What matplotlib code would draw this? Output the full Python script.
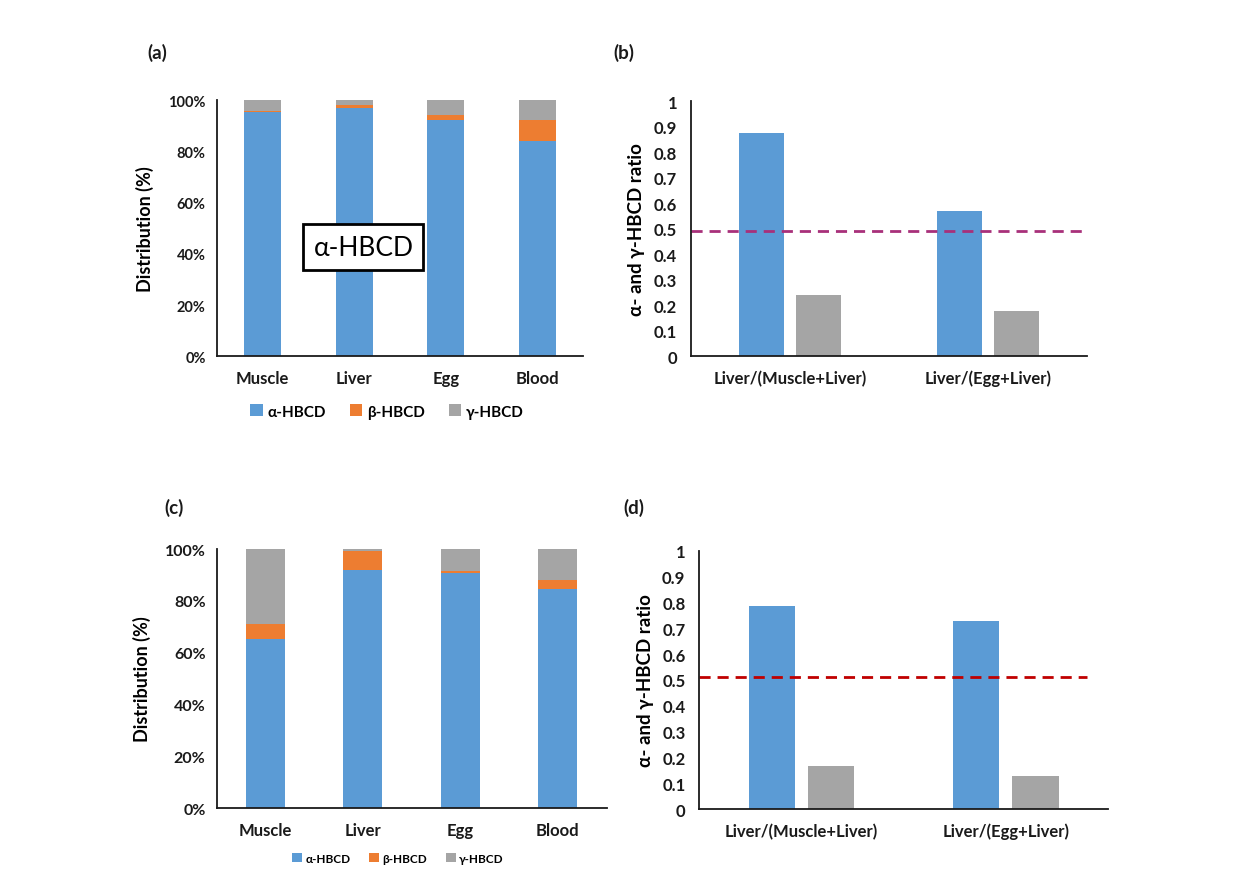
import numpy as np
from matplotlib import pyplot as plt
from matplotlib.ticker import PercentFormatter

plt.rcParams['font.family'] = ['Lato', 'DejaVu Sans']
plt.rcParams['font.weight'] = 'bold'

# Data
tissues = ['Muscle', 'Liver', 'Egg', 'Blood']
isomers = ['α-HBCD', 'β-HBCD', 'γ-HBCD']

# panel (a), percent
alpha_a = [95.3, 97.0, 92.4, 83.9]
beta_a = [0.5, 1.0, 1.8, 8.5]

# panel (c), percent
alpha_c = [65.4, 91.9, 90.9, 84.7]
beta_c = [5.6, 7.3, 0.6, 3.3]

ratio_labels = ['Liver/(Muscle+Liver)', 'Liver/(Egg+Liver)']
alpha_ratio_b = [0.874, 0.567]
gamma_ratio_b = [0.238, 0.176]
alpha_ratio_d = [0.787, 0.729]
gamma_ratio_d = [0.166, 0.127]
ref_b = 0.491
ref_d = 0.513

BLUE = '#5B9BD5'
ORANGE = '#ED7D31'
GRAY = '#A5A5A5'
TXT = '#1a1a1a'


def style(ax):
    for s in ['top', 'right']:
        ax.spines[s].set_visible(False)
    for s in ['left', 'bottom']:
        ax.spines[s].set_color('#1a1a1a')
        ax.spines[s].set_linewidth(1.3)
    ax.tick_params(length=0, colors=TXT)


def stacked(ax, alpha, beta, tsize, xsize, lsize, legsize, legy):
    x = np.arange(len(tissues))
    alpha = np.array(alpha)
    beta = np.array(beta)
    gamma = 100 - alpha - beta
    ax.bar(x, alpha, 0.4, color=BLUE, label=isomers[0])
    ax.bar(x, beta, 0.4, bottom=alpha, color=ORANGE, label=isomers[1])
    ax.bar(x, gamma, 0.4, bottom=alpha + beta, color=GRAY, label=isomers[2])
    ax.set_xlim(-0.5, 3.5)
    ax.set_ylim(0, 100)
    ax.set_yticks(np.arange(0, 101, 20))
    ax.yaxis.set_major_formatter(PercentFormatter(decimals=0))
    ax.set_xticks(x)
    ax.set_xticklabels(tissues, fontsize=xsize, fontweight='bold')
    ax.tick_params(axis='y', labelsize=tsize, pad=8)
    ax.tick_params(axis='x', pad=10)
    ax.set_ylabel('Distribution (%)', fontsize=lsize, fontweight='bold', labelpad=10)
    style(ax)
    ax.legend(loc='center', bbox_to_anchor=(0.465, legy), ncol=3, frameon=False,
              fontsize=legsize, handlelength=0.8, handleheight=0.8,
              handletextpad=0.3, columnspacing=1.6)


def ratio(ax, a, g, ref, refcolor, refend, tsize, xsize, lsize):
    x = np.arange(len(ratio_labels))
    ax.bar(x - 0.145, a, 0.226, color=BLUE)
    ax.bar(x + 0.145, g, 0.226, color=GRAY)
    ax.hlines(ref, -0.5, refend, colors=refcolor, linestyles=(0, (4, 2.5)), lw=2)
    ax.set_xlim(-0.5, 1.5)
    ax.set_ylim(0, 1)
    ax.set_yticks(np.arange(0, 1.01, 0.1))
    ax.set_yticklabels(['0', '0.1', '0.2', '0.3', '0.4', '0.5', '0.6', '0.7', '0.8', '0.9', '1'])
    ax.set_xticks(x)
    ax.set_xticklabels(ratio_labels, fontsize=xsize, fontweight='bold')
    ax.tick_params(axis='y', labelsize=tsize, pad=10)
    ax.tick_params(axis='x', pad=10)
    ax.set_ylabel('α- and γ-HBCD ratio', fontsize=lsize, fontweight='bold', labelpad=6)
    style(ax)


fig = plt.figure(figsize=(12.47, 8.87), dpi=100)

ax_a = fig.add_axes([0.174, 0.597, 0.2935, 0.289])
stacked(ax_a, alpha_a, beta_a, 10.5, 12, 13, 11, -0.215)
ax_a.text(0.40, 0.427, 'α-HBCD', transform=ax_a.transAxes, ha='center', va='center',
          fontsize=19, fontweight='normal', color='black',
          bbox=dict(boxstyle='square,pad=0.38', fc='white', ec='black', lw=2))

ax_b = fig.add_axes([0.5541, 0.5975, 0.3176, 0.2875])
ratio(ax_b, alpha_ratio_b, gamma_ratio_b, ref_b, '#A8307A', 1.5, 12, 12, 13.5)

ax_c = fig.add_axes([0.1738, 0.0879, 0.3127, 0.292])
stacked(ax_c, alpha_c, beta_c, 11.5, 12, 13, 8.5, -0.195)

ax_d = fig.add_axes([0.5608, 0.0868, 0.3277, 0.2912])
ratio(ax_d, alpha_ratio_d, gamma_ratio_d, ref_d, '#C00000', 1.397, 12, 12, 13.5)

for lab, (xp, yp) in zip(['(a)', '(b)', '(c)', '(d)'],
                         [(0.118, 0.933), (0.4915, 0.933), (0.132, 0.421), (0.5, 0.421)]):
    fig.text(xp, yp, lab, fontsize=13.5, fontweight='bold', color=TXT)

fig.savefig('out.png', dpi=100)
